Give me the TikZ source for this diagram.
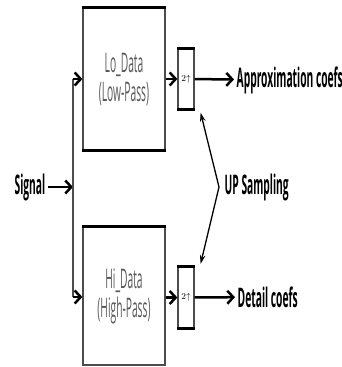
\documentclass[tikz,border=0pt]{standalone}
\usepackage{fontspec}
\usepackage{amsmath,amssymb}
\usepackage{xcolor}
\usepackage{tikz}
\usetikzlibrary{arrows.meta,positioning}
\newfontfamily\diagfont[FakeStretch=0.38]{Open Sans}

\begin{document}
\begin{tikzpicture}[
    x=1pt, y=-1pt,
    filterbox/.style={rectangle, draw=gray!60!black, line width=1.2pt, align=center, minimum width=82pt, text=gray!70!black, font=\diagfont\fontsize{27}{29}\selectfont},
    upbox/.style={rectangle, draw=gray!60!black, line width=1.2pt, minimum width=16pt, minimum height=60pt, inner sep=0pt, font=\fontsize{9}{10}\selectfont},
    thickedge/.style={line width=3pt, black},
    lbl/.style={font=\diagfont\bfseries\fontsize{27}{27}\selectfont, inner sep=2.5pt},
    arrow/.style={-{Straight Barb[length=6pt, width=13pt]}, line width=2.5pt},
    thinarrow/.style={{Stealth[length=9pt, width=5.5pt]}-{Stealth[length=9pt, width=5.5pt]}, line width=1.3pt}
]
\useasboundingbox (0,0) rectangle (342,367);

\node[filterbox, minimum height=142pt] (lo) at (124,79) {Lo\_Data\\(Low-Pass)};
\node[filterbox, minimum height=138pt] (hi) at (124,296) {Hi\_Data\\(High-Pass)};
\node[upbox] (uplo) at (186,79) {2$\uparrow$};
\node[upbox] (uphi) at (186,297.5) {2$\uparrow$};

\draw[thickedge] (lo.north west) -- (lo.north east);
\draw[thickedge] (lo.south west) -- (lo.south east);
\draw[thickedge] (hi.north west) -- (hi.north east);
\draw[thickedge] (uplo.north west) -- (uplo.north east);
\draw[thickedge] (uplo.south west) -- (uplo.south east);
\draw[thickedge] (uphi.north west) -- (uphi.north east);
\draw[thickedge] (uphi.south west) -- (uphi.south east);

\node[lbl, anchor=east] (signal) at (48,187) {Signal};
\node[lbl, anchor=west] (approx) at (234,80) {Approximation coefs};
\node[lbl, anchor=west] (detail) at (235,297) {Detail coefs};
\node[lbl, anchor=west] (upsamp) at (222,187) {UP Sampling};

\coordinate (split) at (73,187);
\coordinate (top) at (73,79);
\coordinate (bot) at (73,297);
\coordinate (apex) at (219,187);

\draw[arrow] (signal) -- (split);
\draw[gray!60!black, line width=1.5pt] (top) -- (bot);
\draw[arrow] (top) -- (lo);
\draw[arrow] (bot) -- (hi.west |- bot);
\draw[arrow] (lo) -- (uplo);
\draw[arrow] (hi.east |- uphi) -- (uphi);
\draw[arrow] (uplo) -- (approx);
\draw[arrow] (uphi) -- (detail);
\draw[thinarrow] ([xshift=6pt, yshift=-3pt]uplo.south east) -- (apex) -- ([xshift=6pt, yshift=3pt]uphi.north east);
\end{tikzpicture}
\end{document}
